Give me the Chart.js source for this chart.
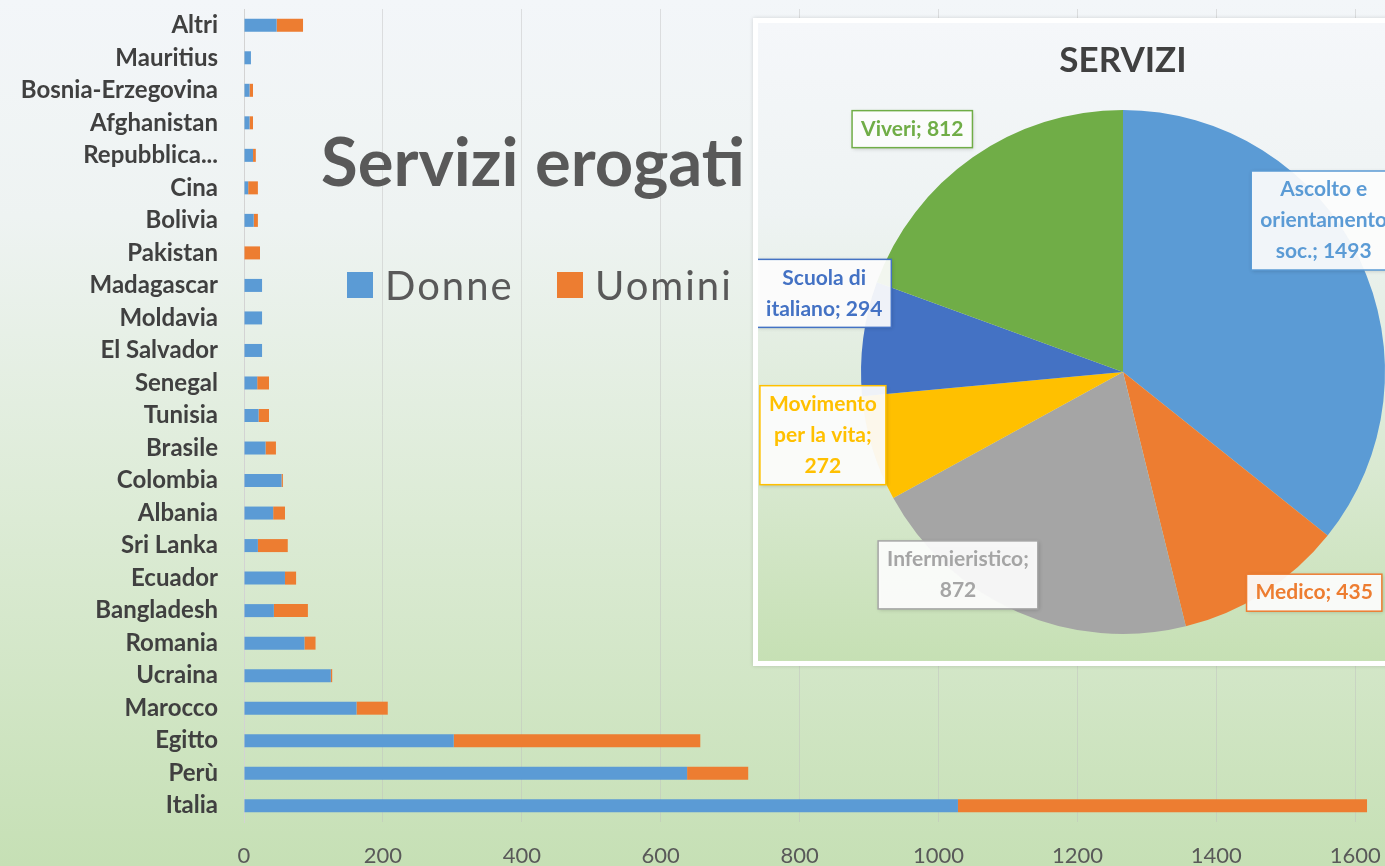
<!DOCTYPE html>
<html lang="it">
<head>
<meta charset="utf-8">
<title>Servizi erogati</title>
<script src="https://cdn.jsdelivr.net/npm/chart.js@4.4.1/dist/chart.umd.min.js"></script>
<style>
    html, body {
        margin: 0;
        padding: 0;
        width: 1385px;
        height: 866px;
        overflow: hidden;
    }
    body {
        position: relative;
        font-family: Lato, 'Open Sans', sans-serif;
        background: linear-gradient(to bottom, #f3f6f9 0%, #eef3f2 25%, #dcebd5 60%, #c6e0b5 100%);
    }
    #barChart {
        position: absolute;
        left: 0;
        top: 0;
    }
    .title {
        position: absolute;
        left: 321px;
        top: 120px;
        font-size: 67px;
        font-weight: 700;
        line-height: 80px;
        color: #595959;
        white-space: nowrap;
    }
    .legend-item {
        position: absolute;
        top: 262px;
        height: 46px;
        display: flex;
        align-items: center;
        font-size: 40px;
        letter-spacing: 2px;
        color: #595959;
    }
    .legend-item .sw {
        width: 26px;
        height: 26px;
        margin-right: 12px;
    }
    #pieBox {
        position: absolute;
        left: 753px;
        top: 18px;
        width: 730px;
        height: 638px;
        border: 5px solid #fff;
        background: linear-gradient(to bottom, #f5f7fa 0%, #eef3f3 30%, #d9e9d1 70%, #c6e0b4 100%);
        box-shadow: 0 0 4px rgba(0, 0, 0, 0.15);
    }
    #pieChart {
        position: absolute;
        left: 0;
        top: 0;
    }
    .pie-title {
        position: absolute;
        left: 0;
        top: 15px;
        width: 730px;
        text-align: center;
        font-size: 35px;
        font-weight: 700;
        line-height: 40px;
        color: #404040;
    }
</style>
</head>
<body>
<canvas id="barChart" width="1385" height="866"></canvas>

<div class="title">Servizi erogati</div>
<div class="legend-item" style="left:347px"><span class="sw" style="background:#5B9BD5"></span>Donne</div>
<div class="legend-item" style="left:557px"><span class="sw" style="background:#ED7D31"></span>Uomini</div>

<div id="pieBox">
    <canvas id="pieChart" width="730" height="638"></canvas>
    <div class="pie-title">SERVIZI</div>
</div>

<script>
// Bar data (top to bottom, as in the picture)
const paesi = ['Altri', 'Mauritius', 'Bosnia-Erzegovina', 'Afghanistan', 'Repubblica...', 'Cina',
    'Bolivia', 'Pakistan', 'Madagascar', 'Moldavia', 'El Salvador', 'Senegal', 'Tunisia', 'Brasile',
    'Colombia', 'Albania', 'Sri Lanka', 'Ecuador', 'Bangladesh', 'Romania', 'Ucraina', 'Marocco',
    'Egitto', 'Perù', 'Italia'];
const donne = [47, 10, 8, 8, 13, 6, 14, 0, 26, 26, 26, 19, 21, 31, 54, 42, 20, 59, 43, 87, 125, 162, 302, 638, 1028];
const uomini = [38, 0, 5, 5, 4, 14, 6, 23, 0, 0, 0, 17, 15, 15, 2, 17, 43, 16, 49, 16, 2, 45, 355, 88, 589];
const xTicks = [0, 200, 400, 600, 800, 1000, 1200, 1400, 1600];

// Pie data
const servizi = ['Ascolto e orientamento soc.', 'Medico', 'Infermieristico', 'Movimento per la vita',
    'Scuola di italiano', 'Viveri'];
const valori = [1493, 435, 872, 272, 294, 812];
const coloriServizi = ['#5B9BD5', '#ED7D31', '#A5A5A5', '#FFC000', '#4472C4', '#70AD47'];

// Bar chart
const barCtx = document.getElementById('barChart').getContext('2d');

const barChart = new Chart(barCtx, {
    type: 'bar',
    data: {
        labels: paesi,
        datasets: [
            {
                label: 'Donne',
                data: donne,
                backgroundColor: '#5B9BD5',
                barPercentage: 0.4,
                categoryPercentage: 1
            },
            {
                label: 'Uomini',
                data: uomini,
                backgroundColor: '#ED7D31',
                barPercentage: 0.4,
                categoryPercentage: 1
            }
        ]
    },
    options: {
        indexAxis: 'y',
        responsive: false,
        animation: false,
        layout: {
            autoPadding: false,
            padding: { top: 9, right: 2, left: 0, bottom: 0 }
        },
        plugins: {
            legend: { display: false },
            title: { display: false }
        },
        scales: {
            x: {
                stacked: true,
                min: 0,
                max: 1640,
                afterBuildTicks: function(axis) {
                    axis.ticks = xTicks.map(v => ({ value: v }));
                },
                afterFit: function(scale) {
                    scale.height = 44;
                    scale.paddingLeft = 0;
                    scale.paddingRight = 0;
                },
                ticks: {
                    color: '#595959',
                    padding: 21,
                    font: { family: 'Lato', size: 22 },
                    callback: function(value) {
                        return String(value);
                    }
                },
                grid: {
                    color: 'rgba(190, 190, 190, 0.45)',
                    drawTicks: false
                },
                border: { display: false }
            },
            y: {
                stacked: true,
                afterFit: function(scale) {
                    scale.width = 244;
                    scale.paddingTop = 0;
                    scale.paddingBottom = 0;
                },
                ticks: {
                    autoSkip: false,
                    color: '#404040',
                    padding: 26,
                    font: { family: 'Lato', size: 24, weight: 'bold' }
                },
                grid: {
                    display: false,
                    drawTicks: false
                },
                border: { display: true, color: '#d3d3d3' }
            }
        }
    }
});

// Pie labels: boxed text near each slice
const pieLabels = {
    id: 'pieLabels',
    afterDatasetsDraw(chart, args, opts) {
        const ctx = chart.ctx;
        const meta = chart.getDatasetMeta(0);
        ctx.save();
        ctx.font = 'bold 21px Lato';
        ctx.textAlign = 'center';
        ctx.textBaseline = 'middle';
        meta.data.forEach((arc, i) => {
            const text = servizi[i] + '; ' + valori[i];
            const words = text.split(' ');
            const lines = [];
            let line = '';
            words.forEach(w => {
                const test = line ? line + ' ' + w : w;
                if (line && ctx.measureText(test).width > opts.maxWidth) {
                    lines.push(line);
                    line = w;
                } else {
                    line = test;
                }
            });
            lines.push(line);

            const pos = opts.place[i];
            const mid = (arc.startAngle + arc.endAngle) / 2;
            const r = arc.outerRadius * pos.k;
            const cx = arc.x + Math.cos(mid) * r + pos.dx;
            const cy = arc.y + Math.sin(mid) * r + pos.dy;
            const lh = 31;
            const w = Math.max(...lines.map(l => ctx.measureText(l).width)) + 18;
            const h = lines.length * lh + 6;

            ctx.shadowColor = 'rgba(0, 0, 0, 0.2)';
            ctx.shadowBlur = 4;
            ctx.shadowOffsetX = 1;
            ctx.shadowOffsetY = 1;
            ctx.fillStyle = 'rgba(255, 255, 255, 0.92)';
            ctx.fillRect(cx - w / 2, cy - h / 2, w, h);
            ctx.shadowColor = 'transparent';
            ctx.strokeStyle = coloriServizi[i];
            ctx.lineWidth = 1.5;
            ctx.strokeRect(cx - w / 2, cy - h / 2, w, h);

            ctx.fillStyle = coloriServizi[i];
            lines.forEach((l, j) => {
                ctx.fillText(l, cx, cy - h / 2 + 3 + lh * j + lh / 2);
            });
        });
        ctx.restore();
    }
};

const pieCtx = document.getElementById('pieChart').getContext('2d');

const pieChart = new Chart(pieCtx, {
    type: 'pie',
    data: {
        labels: servizi,
        datasets: [{
            data: valori,
            backgroundColor: coloriServizi,
            borderWidth: 0
        }]
    },
    options: {
        responsive: false,
        animation: false,
        layout: {
            padding: { top: 87, bottom: 27, left: 103, right: 103 }
        },
        plugins: {
            legend: { display: false },
            pieLabels: {
                maxWidth: 130,
                place: [
                    { k: 0.85, dx: 0, dy: -55 },
                    { k: 1.0, dx: 50, dy: 0 },
                    { k: 0.95, dx: -65, dy: -25 },
                    { k: 1.15, dx: -12, dy: -25 },
                    { k: 1.15, dx: 0, dy: -40 },
                    { k: 1.15, dx: -38, dy: 4 }
                ]
            }
        }
    },
    plugins: [pieLabels]
});
</script>
</body>
</html>
